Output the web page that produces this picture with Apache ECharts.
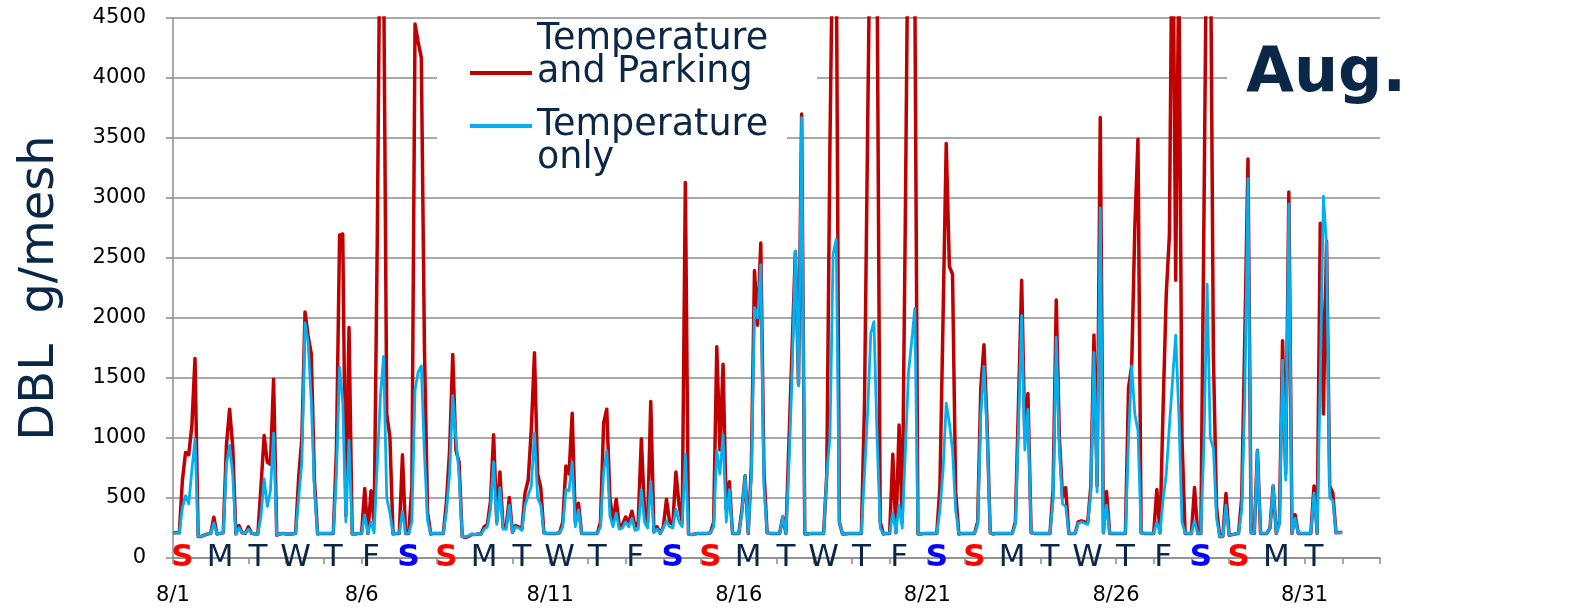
<!DOCTYPE html>
<html><head><meta charset="utf-8">
<script src="https://cdn.jsdelivr.net/npm/echarts@6/dist/echarts.min.js"></script>
<style>html,body{margin:0;padding:0;background:#fff}#c{width:1588px;height:613px}</style>
</head><body><div id="c"></div>
<script>
const seriesNames = ['Temperature and Parking', 'Temperature only'];
const legendLabels = ['Temperature\nand Parking\n', '\nTemperature\nonly'];
const dateTickLabels = ['8/1', '8/6', '8/11', '8/16', '8/21', '8/26', '8/31'];
const dayLetters = ['S','M','T','W','T','F','S','S','M','T','W','T','F','S','S','M','T','W','T','F','S','S','M','T','W','T','F','S','S','M','T'];
const titleText = 'Aug.';
const yAxisName = 'DBL  g/mesh';
const samplesPerDay = 12; // one value every 2 hours

const tempParking = [
 210,210,210,650,880,860,1100,1663,180,180,190,200,
 205,340,200,205,210,940,1240,930,200,270,210,205,
 260,205,200,200,600,1020,800,780,1490,190,200,205,
 200,200,200,205,680,1000,2050,1850,1700,650,200,205,
 205,205,205,205,900,2690,2700,350,1920,200,200,205,
 205,580,205,560,300,2690,5800,5000,1200,1010,200,205,
 205,860,205,205,600,4450,4300,4170,1740,375,200,205,
 205,205,205,470,900,1695,900,800,180,170,180,195,
 195,200,200,260,280,470,1027,300,717,260,260,505,
 215,270,260,240,540,650,1076,1710,700,587,210,205,
 205,205,205,210,300,766,700,1206,300,456,205,205,
 205,205,205,205,300,1125,1240,500,300,490,260,280,
 342,300,390,260,300,994,400,300,1304,220,260,205,
 260,490,300,280,717,440,300,3130,200,195,200,205,
 205,205,205,210,300,1760,900,1614,400,636,205,205,
 205,400,685,205,766,2396,1940,2624,733,210,205,205,
 205,205,342,205,1000,1777,2550,1450,3700,200,200,205,
 205,205,205,205,700,3440,5500,5200,300,200,200,205,
 205,205,205,205,1290,3590,5800,5600,4900,300,200,205,
 205,864,210,1108,300,2870,5800,5500,4800,200,200,205,
 205,205,205,205,600,2020,3455,2430,2364,554,200,205,
 205,205,205,205,300,1418,1777,1108,210,200,205,205,
 205,205,205,205,300,1300,2315,1010,1370,210,205,205,
 205,205,205,205,570,2150,1000,505,587,205,205,205,
 300,310,300,290,600,1858,600,3670,210,554,205,205,
 205,205,205,205,1418,1600,2755,3490,210,205,205,205,
 205,570,210,1255,2200,2690,5800,2315,5000,1000,205,205,
 205,587,205,205,2870,5800,5500,1680,424,180,180,538,
 190,195,200,205,500,1860,3325,210,205,897,205,205,
 205,250,600,205,300,1810,700,3050,205,360,205,205,
 205,205,205,600,205,2790,1200,2640,600,540,210,212,
 212
];

const tempOnly = [
 210,210,210,420,520,450,730,990,180,180,190,200,
 205,290,200,205,210,780,940,690,200,250,210,205,
 240,205,200,200,350,660,430,560,1040,190,200,205,
 200,200,200,205,500,800,1960,1790,1300,570,200,205,
 205,205,205,205,700,1590,1300,300,980,200,200,205,
 205,360,205,300,210,800,1350,1680,500,375,200,205,
 205,390,205,205,300,1400,1550,1600,860,310,200,205,
 205,205,205,390,700,1353,1000,700,180,175,185,200,
 195,200,200,240,260,400,800,280,587,240,240,440,
 215,260,250,230,440,520,600,1043,500,440,205,205,
 205,205,205,210,260,570,560,800,260,400,205,205,
 205,205,205,205,260,717,897,350,260,375,240,250,
 300,260,330,230,240,570,300,250,636,210,240,205,
 250,310,260,250,407,300,260,864,200,195,200,205,
 205,205,205,210,260,897,700,1027,300,570,205,205,
 205,380,685,205,700,2086,2000,2445,600,210,205,205,
 205,205,342,205,800,1565,2560,1434,3670,200,200,205,
 205,205,205,205,700,1000,2530,2657,300,200,200,205,
 205,205,205,205,700,1220,1875,1970,1000,250,200,205,
 205,375,210,440,250,897,1550,1800,2080,200,200,205,
 205,205,205,205,400,733,1290,1125,900,400,200,205,
 205,205,205,205,280,1190,1597,1043,210,200,205,205,
 205,205,205,205,280,1100,2020,900,1240,210,205,205,
 205,205,205,205,480,1840,900,450,430,205,205,205,
 290,300,290,280,550,1711,550,2918,210,440,205,205,
 205,205,205,205,994,1600,1200,1060,210,205,205,205,
 205,300,205,490,700,1100,1483,1858,1200,300,205,205,
 205,310,205,205,960,2283,1000,917,330,180,180,440,
 190,195,200,205,400,1337,3162,210,205,897,205,205,
 205,250,600,205,280,1646,650,2950,205,330,205,205,
 205,205,205,540,205,1500,3015,2608,500,480,210,212,
 212
];

const FONT = '"DejaVu Sans", Verdana, sans-serif';
const NAVY = '#0b2747';
const GRAY = '#8c8c8c';
const RED = '#c00000';
const BLUE = '#00b0f0';

const toXY = arr => arr.map((v, i) => [i / samplesPerDay, v]);

const letterData = dayLetters.map((L, i) => {
  const dow = i % 7;
  const color = dow === 0 ? '#ff0000' : (dow === 6 ? '#0000ff' : NAVY);
  return {
    value: [i + 0.25, 0],
    label: { color: color, fontWeight: (dow === 0 || dow === 6) ? 'bold' : 'normal' }
  };
});

const legendText = { fontFamily: FONT, fontSize: 36.5, lineHeight: 33, color: NAVY };

const chart = echarts.init(document.getElementById('c'));
chart.setOption({
  animation: false,
  backgroundColor: '#ffffff',
  grid: { left: 173, right: 208, top: 18, bottom: 55, outerBoundsMode: 'none', containLabel: false },
  xAxis: {
    type: 'value', min: 0, max: 32, interval: 1,
    axisLine: { show: true, lineStyle: { color: GRAY, width: 1.5 } },
    axisTick: { show: true, length: 6, lineStyle: { color: GRAY, width: 1.5 } },
    splitLine: { show: false },
    axisLabel: {
      margin: 27, fontFamily: FONT, fontSize: 21, color: '#000',
      formatter: v => (v % 5 === 0 && v / 5 < dateTickLabels.length) ? dateTickLabels[v / 5] : ''
    }
  },
  yAxis: {
    type: 'value', min: 0, max: 4500, interval: 500,
    name: yAxisName, nameLocation: 'middle', nameGap: 108, nameRotate: 90,
    nameTextStyle: { fontFamily: FONT, fontSize: 48, color: NAVY },
    axisLine: { show: true, lineStyle: { color: GRAY, width: 1.5 } },
    axisTick: { show: true, length: 7, lineStyle: { color: GRAY, width: 1.5 } },
    splitLine: { show: true, lineStyle: { color: GRAY, width: 1.5 } },
    axisLabel: { margin: 27, fontFamily: FONT, fontSize: 21, color: '#000', formatter: v => String(v) }
  },
  legend: [
    {
      data: [seriesNames[0]],
      orient: 'vertical', left: 470, top: 21.5, padding: 0, z: 6,
      icon: 'rect', itemWidth: 62, itemHeight: 4, selectedMode: false,
      itemStyle: { borderWidth: 0 },
      formatter: () => legendLabels[0],
      textStyle: legendText
    },
    {
      data: [seriesNames[1]],
      orient: 'vertical', left: 470, top: 74.5, padding: 0, z: 6,
      icon: 'rect', itemWidth: 62, itemHeight: 4, selectedMode: false,
      itemStyle: { borderWidth: 0 },
      formatter: () => legendLabels[1],
      textStyle: legendText
    }
  ],
  graphic: [
    { type: 'rect', left: 437, top: 62, shape: { width: 380, height: 30 }, style: { fill: '#fff' }, z: 1, silent: true },
    { type: 'rect', left: 437, top: 125, shape: { width: 350, height: 25 }, style: { fill: '#fff' }, z: 1, silent: true },
    { type: 'rect', left: 1227, top: 45, shape: { width: 170, height: 68 }, style: { fill: '#fff' }, z: 1, silent: true },
    { type: 'text', left: 1246, top: 44, style: { text: titleText, font: 'bold 62px "DejaVu Sans"', fill: NAVY }, z: 10, silent: true }
  ],
  series: [
    {
      name: seriesNames[0], type: 'line', data: toXY(tempParking),
      symbol: 'none', showSymbol: false, silent: true, z: 2,
      lineStyle: { color: RED, width: 3.5, join: 'round' },
      itemStyle: { color: RED }
    },
    {
      name: seriesNames[1], type: 'line', data: toXY(tempOnly),
      symbol: 'none', showSymbol: false, silent: true, z: 3,
      lineStyle: { color: BLUE, width: 2.8, join: 'round' },
      itemStyle: { color: BLUE }
    },
    {
      type: 'scatter', data: letterData, symbolSize: 1, clip: false, silent: true, z: 5,
      itemStyle: { color: 'rgba(0,0,0,0)' },
      label: {
        show: true, position: 'inside', fontFamily: FONT, fontSize: 31,
        textBorderWidth: 0, opacity: 1,
        formatter: p => dayLetters[p.dataIndex]
      }
    }
  ]
});
</script>
</body></html>
